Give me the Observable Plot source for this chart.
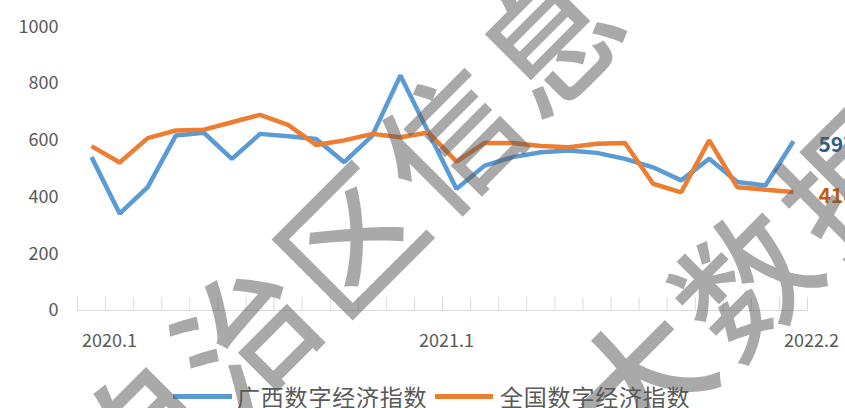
<!DOCTYPE html>
<html><head><meta charset="utf-8">
<script src="https://cdn.jsdelivr.net/npm/d3@7"></script>
<script src="https://cdn.jsdelivr.net/npm/@observablehq/plot@0.6"></script>
<style>
body{margin:0;background:#fff;font-family:"Noto Sans CJK SC","Noto Sans",sans-serif;}
#wrap{position:relative;width:845px;height:408px;overflow:hidden;background:#fff;}
#legend{position:relative;width:845px;height:30px;}
.sw{position:absolute;top:15.5px;height:5px;}
.lt{position:absolute;top:3px;line-height:30px;font-size:23px;letter-spacing:0.8px;color:#595959;white-space:nowrap;}
#wm{position:absolute;left:0;top:0;width:845px;height:408px;pointer-events:none;}
#wm span{position:absolute;transform:translate(-50%,-50%) rotate(-45deg);font-size:135px;line-height:1;color:rgba(90,90,90,0.52);font-weight:500;}
</style></head>
<body>
<div id="wrap">
  <div id="chart"></div>
  <div id="legend"></div>
  <div id="wm"></div>
</div>
<script>
const months = ["2020.1","2020.2","2020.3","2020.4","2020.5","2020.6","2020.7","2020.8","2020.9","2020.10","2020.11","2020.12",
  "2021.1","2021.2","2021.3","2021.4","2021.5","2021.6","2021.7","2021.8","2021.9","2021.10","2021.11","2021.12",
  "2022.1","2022.2"];
const guangxi = [541,342,435,617,627,535,623,615,605,523,617,829,629,429,511,541,558,564,556,535,505,459,535,453,441,597];
const national = [580,522,608,635,638,664,690,655,584,600,623,611,628,525,591,591,580,576,588,591,447,417,600,435,426,418];
const seriesNames = ["广西数字经济指数","全国数字经济指数"];
const seriesColors = ["#5B9BD5","#ED7D31"];
const labelColors = ["#2F5D8C","#C55A11"];
const yTicks = [0,200,400,600,800,1000];
const xTickLabels = ["2020.1","2021.1","2022.2"];
const watermark1 = ["自","治","区","信","息"];
const watermark2 = ["大","数","据"];

const rows = [];
months.forEach((m,i)=>{
  rows.push({i, m, v: guangxi[i], s: seriesNames[0]});
  rows.push({i, m, v: national[i], s: seriesNames[1]});
});
const lastRows = [
  {i: months.length-1, v: guangxi[guangxi.length-1], c: labelColors[0]},
  {i: months.length-1, v: national[national.length-1], c: labelColors[1]}
];

const chart = Plot.plot({
  width: 845, height: 378,
  marginLeft: 77, marginRight: 38, marginTop: 26.5, marginBottom: 68,
  style: {fontFamily: '"Noto Sans CJK SC","Noto Sans",sans-serif', fontSize: "18px", color: "#595959", background: "white", overflow: "visible"},
  x: {domain: [0, months.length], axis: null},
  y: {domain: [0, 1000], axis: null},
  color: {domain: seriesNames, range: seriesColors},
  marks: [
    Plot.axisY({ticks: yTicks, tickFormat: d3.format("d"), tickSize: 0, tickPadding: 19, fontSize: 18, fill: "#595959", label: null}),
    Plot.ruleY([0], {stroke: "#d9d9d9", strokeWidth: 1}),
    Plot.ruleX(d3.range(months.length+1), {x: d=>d, y1: 0, y2: 45, stroke: "#d9d9d9", strokeWidth: 1}),
    Plot.text(xTickLabels, {x: d=>months.indexOf(d)+0.5, y: 0, dy: 31, dx: 18, text: d=>d, fontSize: 18, fill: "#595959", lineAnchor: "middle"}),
    Plot.line(rows.filter(r=>r.s===seriesNames[0]), {x: d=>d.i+0.5, y: "v", stroke: "s", strokeWidth: 4.5, strokeLinejoin: "miter", strokeLinecap: "butt"}),
    Plot.line(rows.filter(r=>r.s===seriesNames[1]), {x: d=>d.i+0.5, y: "v", stroke: "s", strokeWidth: 4.5, strokeLinejoin: "miter", strokeLinecap: "butt"}),
    Plot.text(lastRows, {x: d=>d.i+0.5, y: "v", text: d=>String(d.v), dx: 25, dy: 4, textAnchor: "start", fontWeight: "bold", fontSize: 21, fill: d=>d.c})
  ]
});
document.getElementById("chart").appendChild(chart);

const lg = document.getElementById("legend");
const legendPos = [[173, 59, 237],[435, 58, 500]];
seriesNames.forEach((n,k)=>{
  const sw = document.createElement("div");
  sw.className = "sw"; sw.style.left = legendPos[k][0]+"px"; sw.style.width = legendPos[k][1]+"px"; sw.style.background = seriesColors[k];
  const t = document.createElement("div");
  t.className = "lt"; t.style.left = legendPos[k][2]+"px"; t.textContent = n;
  lg.appendChild(sw); lg.appendChild(t);
});

const wm = document.getElementById("wm");
const wmPos1 = [[138,428],[240,330],[345,235],[445,135],[545,35]];
const wmPos2 = [[635,375],[740,277],[845,177]];
watermark1.forEach((c,k)=>{const s=document.createElement("span");s.textContent=c;s.style.left=wmPos1[k][0]+"px";s.style.top=wmPos1[k][1]+"px";wm.appendChild(s);});
watermark2.forEach((c,k)=>{const s=document.createElement("span");s.textContent=c;s.style.left=wmPos2[k][0]+"px";s.style.top=wmPos2[k][1]+"px";wm.appendChild(s);});
</script>
</body></html>
